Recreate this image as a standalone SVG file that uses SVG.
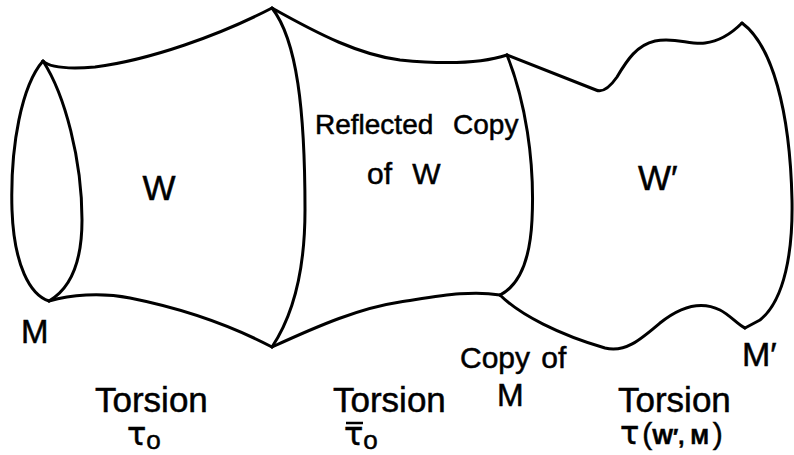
<svg xmlns="http://www.w3.org/2000/svg" width="794" height="455" viewBox="0 0 794 455">
<style>
.ln{fill:none;stroke:#000;stroke-width:3;stroke-linecap:round;stroke-linejoin:round}
text{font-family:"Liberation Sans","DejaVu Sans",sans-serif;fill:#000;stroke:#000;stroke-width:0.5}
.big{font-size:35px}
.mid{font-size:30px}
.tau{font-family:"DejaVu Sans","Liberation Sans",sans-serif;font-size:32px}
.sub{font-family:"Liberation Sans",sans-serif;font-size:26px}
</style>
<rect width="794" height="455" fill="#fff"/>
<g id="connectors">
<path class="ln" d="M43,61 C50,68 70,69 95,67 C150,60 220,35 272,8"/>
<path class="ln" d="M49,301 C70,295 100,292 130,298 C180,308 230,325 272,347"/>
<path class="ln" d="M272,8 C320,35 360,55 400,60 C440,64 480,64 507,55"/>
<path class="ln" d="M272,347 C320,325 360,308 400,302 C440,296 470,290 500,295"/>
<path class="ln" d="M507,55 L596,90 C603,93 610,87 617,77 C627,60 637,45 655,41 C675,37 690,45 705,43 C722,41 735,30 742,23"/>
<path class="ln" d="M500,295 C520,315 560,335 605,348 C625,353 640,340 660,323 C680,307 700,300 720,310 C730,315 738,325 745,328"/>
</g>
<g id="M">
<path class="ln" d="M43,61 C22,85 10,145 12,210 C14,265 30,295 49,301"/>
<path class="ln" d="M43,61 C65,95 82,160 82,220 C82,265 68,290 49,301"/>
<text x="21" y="343" style="font-size:33px">M</text>
</g>
<g id="W">
<path class="ln" d="M272,8 C297,40 305,110 305,210 C305,280 290,320 272,347"/>
<text x="159" y="200" class="big" text-anchor="middle">W</text>
</g>
<g id="reflected">
<text x="315" y="134" style="font-size:28px" word-spacing="12">Reflected Copy</text>
<text x="367" y="184" class="mid" word-spacing="12">of W</text>
</g>
<g id="copyM">
<path class="ln" d="M507,55 C525,100 535,160 532,220 C530,260 520,285 500,295"/>
<text x="460" y="368" class="mid" word-spacing="3">Copy of</text>
<text x="497" y="406" style="font-size:32px">M</text>
</g>
<g id="Wprime">
<path class="ln" d="M742,23 C772,45 790,110 792,200 C793,250 785,300 760,320 L745,328"/>
<text x="638" y="190" class="big">W′</text>
<text x="742" y="366" style="font-size:34px">M′</text>
</g>
<g id="torsion1">
<text x="95" y="412" class="big">Torsion</text>
<text x="127" y="445" class="tau">τ<tspan dy="4" class="sub">o</tspan></text>
</g>
<g id="torsion2">
<text x="333" y="412" class="big">Torsion</text>
<line x1="346" y1="423" x2="363" y2="423" stroke="#000" stroke-width="2.5"/>
<text x="344" y="445" class="tau">τ<tspan dy="4" class="sub">o</tspan></text>
</g>
<g id="torsion3">
<text x="618" y="412" class="big">Torsion</text>
<text x="620" y="444" class="tau">τ<tspan dx="3" style="font-family:'Liberation Sans',sans-serif;font-size:30px">(</tspan><tspan style="font-family:'Liberation Sans',sans-serif;font-size:22px;font-weight:bold">W′, M</tspan><tspan dx="4" style="font-family:'Liberation Sans',sans-serif;font-size:30px">)</tspan></text>
</g>
</svg>
